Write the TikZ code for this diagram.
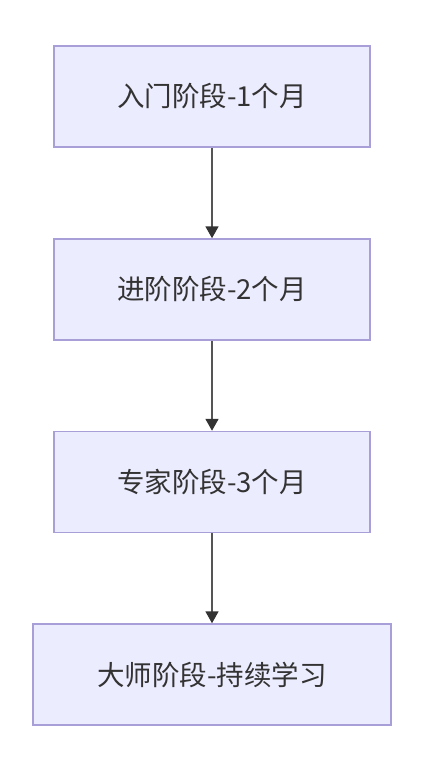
\documentclass[tikz,border=0pt]{standalone}
\usepackage{fontspec}
\newfontfamily\cjk{Noto Sans CJK SC}
\usetikzlibrary{arrows.meta}
\definecolor{boxfill}{HTML}{ECECFF}
\definecolor{boxline}{HTML}{A89FD9}
\definecolor{txt}{HTML}{333333}
\definecolor{arr}{HTML}{555555}
\definecolor{tip}{HTML}{333333}
\begin{document}
\begin{tikzpicture}[x=1pt,y=-1pt,
  stage/.style={draw=boxline,fill=boxfill,line width=1.5pt,minimum height=101pt,inner sep=0pt,
    font=\cjk\fontsize{27.5}{32}\selectfont,text=txt},
  conn/.style={draw=arr,line width=1.8pt,-{Triangle[length=12pt,width=13pt,color=tip]}}]
\useasboundingbox[fill=white] (0,0) rectangle (422,760);
\node[stage,minimum width=316pt] (a) at (212,96.5) {入门阶段-1个月};
\node[stage,minimum width=316pt] (b) at (212,289.5) {进阶阶段-2个月};
\node[stage,minimum width=316pt] (c) at (212,482) {专家阶段-3个月};
\node[stage,minimum width=358pt] (d) at (212,674.5) {大师阶段-持续学习};
\draw[conn] (a) -- (b);
\draw[conn] (b) -- (c);
\draw[conn] (c) -- (d);
\end{tikzpicture}
\end{document}
